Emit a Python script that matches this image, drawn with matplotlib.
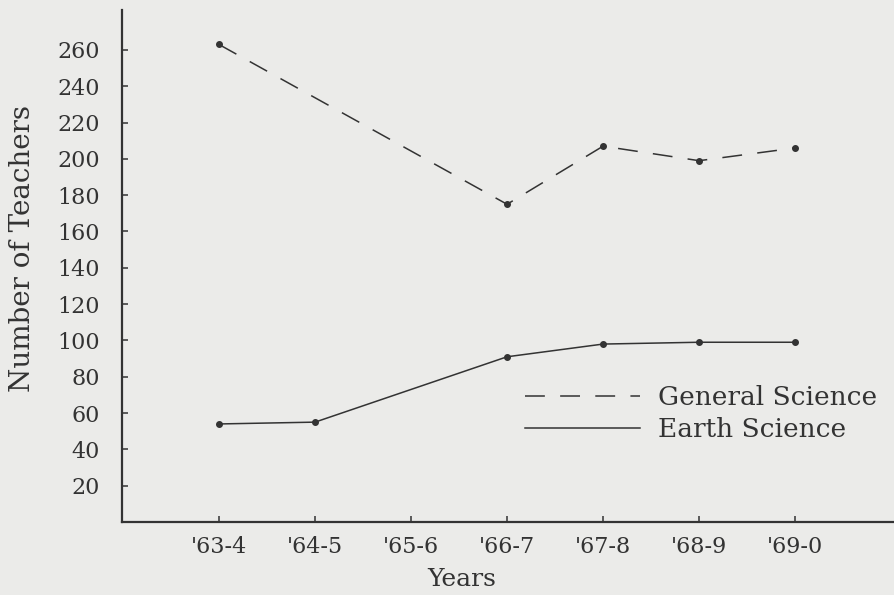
import matplotlib.pyplot as plt

# Data
years = ["'63-4", "'64-5", "'65-6", "'66-7", "'67-8", "'68-9", "'69-0"]

general_idx = [0, 3, 4, 5, 6]
general_science = [263, 175, 207, 199, 206]

earth_idx = [0, 1, 3, 4, 5, 6]
earth_science = [54, 55, 91, 98, 99, 99]

y_ticks = [20, 40, 60, 80, 100, 120, 140, 160, 180, 200, 220, 240, 260]

BG = '#ebebe9'
INK = '#333333'

plt.rcParams['font.family'] = ['DejaVu Serif']

fig = plt.figure(figsize=(8.94, 5.95), dpi=100, facecolor=BG)
ax = fig.add_axes([0.1365, 0.1227, 0.8635, 0.8605], facecolor=BG)

ax.plot(general_idx, general_science, color=INK, lw=1.1,
        linestyle=(0, (13, 10)), marker='o', markersize=4,
        label='General Science')
ax.plot(earth_idx, earth_science, color=INK, lw=1.1,
        marker='o', markersize=4, label='Earth Science')

ax.set_xlim(-1.01, 7.03)
ax.set_ylim(0, 282)

ax.set_xticks(range(len(years)))
ax.set_xticklabels(years)
ax.set_yticks(y_ticks)

ax.spines['top'].set_visible(False)
ax.spines['right'].set_visible(False)
for side in ['left', 'bottom']:
    ax.spines[side].set_color(INK)
    ax.spines[side].set_linewidth(1.6)

ax.tick_params(axis='both', direction='in', length=4, width=1.1,
               colors=INK, labelsize=16)
ax.tick_params(axis='y', pad=16)
ax.tick_params(axis='x', pad=10)

ax.set_xlabel('Years', fontsize=18, color=INK, va='baseline')
ax.xaxis.set_label_coords(0.44, -0.125)
ax.set_ylabel('Number of Teachers', fontsize=20, color=INK)
ax.yaxis.set_label_coords(-0.111, 0.534)

leg = ax.legend(loc='upper left', bbox_to_anchor=(0.522, 0.268),
                frameon=False, fontsize=19, handlelength=4.35,
                handletextpad=0.68, labelspacing=0.28, borderpad=0,
                borderaxespad=0, labelcolor=INK)
# legend keys in the original are plain lines without dots
for line in leg.get_lines():
    line.set_marker('None')

fig.savefig('out.png', dpi=100, facecolor=BG)
